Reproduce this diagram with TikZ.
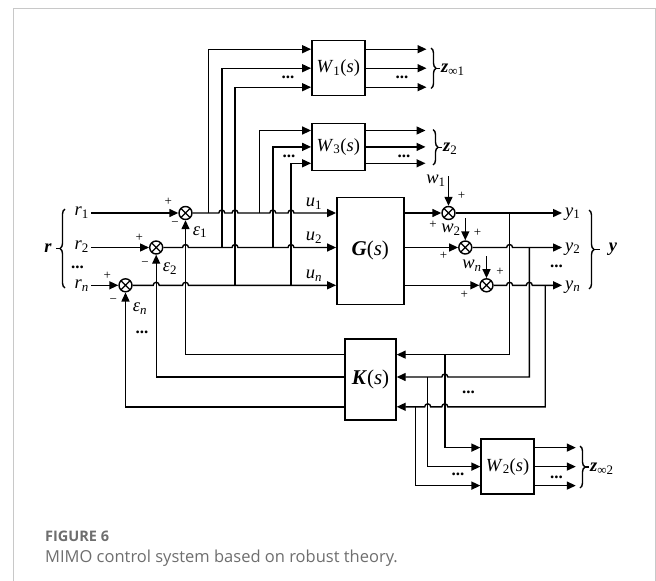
\documentclass[tikz,border=0pt]{standalone}
\usepackage{fontspec}
\setmainfont{Liberation Serif}
\newfontfamily\capfont{Open Sans}
\usetikzlibrary{arrows.meta,decorations.pathreplacing}
\definecolor{capgray}{RGB}{110,110,110}
\definecolor{framegray}{RGB}{200,200,200}
\newcommand\labf{\fontsize{18.5}{19}\selectfont}
\newcommand\bigf{\fontsize{21}{22}\selectfont}
\newcommand\pmf{\fontsize{13}{14}\selectfont}
\newcommand\dotf{\fontsize{17}{18}\selectfont\bfseries}
\tikzset{
  ln/.style={line width=1.4pt},
  ar/.style={line width=1.4pt,-{Triangle[length=9pt,width=8pt]}},
  blk/.style={draw,line width=1.4pt,inner sep=0pt,font=\labf},
  sm/.style={circle,draw,line width=1.4pt,minimum size=13pt,inner sep=0pt,
    path picture={\draw[line width=1.3pt] (path picture bounding box.north west)--(path picture bounding box.south east)
      (path picture bounding box.north east)--(path picture bounding box.south west);}},
  lb/.style={font=\labf,inner sep=0pt},
  pm/.style={font=\pmf,inner sep=0pt},
  dts/.style={font=\dotf,inner sep=0pt},
  brc/.style={line width=1.4pt,decorate,decoration={brace,amplitude=5pt}}
}
\begin{document}
\begin{tikzpicture}[x=1pt,y=-1pt]
\useasboundingbox (0,0) rectangle (656,581);
% frame
\draw[framegray,line width=1pt] (13,590) -- (13,8.5) -- (655,8.5) -- (655,590);

% blocks
\node[blk,minimum width=53pt,minimum height=55pt] (W1) at (338.3,68.2) {\textit{W}\textsubscript{1}(\textit{s})};
\node[blk,minimum width=53pt,minimum height=47pt] (W3) at (338.3,146.9) {\textit{W}\textsubscript{3}(\textit{s})};
\node[blk,minimum width=67pt,minimum height=107pt,font=\bigf] (G) at (370.3,250.9) {\textbf{\textit{G}}(\textit{s})};
\node[blk,minimum width=51pt,minimum height=81pt,font=\bigf] (K) at (370.5,379.6) {\textbf{\textit{K}}(\textit{s})};
\node[blk,minimum width=53pt,minimum height=55pt] (W2) at (507.6,466.6) {\textit{W}\textsubscript{2}(\textit{s})};

% summing junctions
\node[sm] (s1) at (185.5,213) {};
\node[sm] (s2) at (156.2,247.5) {};
\node[sm] (sn) at (125.5,285.3) {};
\node[sm] (sw1) at (448.5,213) {};
\node[sm] (sw2) at (465.3,247.5) {};
\node[sm] (swn) at (486.5,285.3) {};

% reference inputs
\node[lb] (r1) at (81.7,212.5) {\textit{r}\textsubscript{1}};
\node[lb] (r2) at (81.7,246.5) {\textit{r}\textsubscript{2}};
\node[lb] (rn) at (81.7,285.5) {\textit{r}\textsubscript{\textit{n}}};
\node[dts] (rd) at (77.5,267.5) {...};
\draw[ar] (91,213) -- (s1.west);
\draw[ar] (91,247.5) -- (s2.west);
\draw[ar] (91,285.3) -- (sn.west);
\draw[brc] (65,288) -- (65,209);
\draw[ln] (60,248.5) -- (56,248.5);
\node[lb] (r) at (48,248) {\textbf{\textit{r}}};

% signs at left sums
\node[pm] at (168.3,201.7) {+};
\node[pm] at (175,224) {−};
\node[pm] at (139.3,238.3) {+};
\node[pm] at (145,264) {−};
\node[pm] at (107.3,276) {+};
\node[pm] at (113.3,300.7) {−};
\node[lb] at (200,232) {\textit{ε}\textsubscript{1}};
\node[lb] at (170,268.5) {\textit{ε}\textsubscript{2}};
\node[lb] at (140,308.5) {\textit{ε}\textsubscript{\textit{n}}};
\node[dts] at (142,332) {...};

% u lines with hops
\draw[ar] (s1.east) -- (218.8,213) arc[start angle=180,end angle=0,radius=3pt]
  -- (232,213) arc[start angle=180,end angle=0,radius=3pt]
  -- (269.8,213) arc[start angle=180,end angle=0,radius=3pt]
  -- (288,213) arc[start angle=180,end angle=0,radius=3pt]
  -- (G.west |- s1);
\draw[ar] (s2.east) -- (182.5,247.5) arc[start angle=180,end angle=0,radius=3pt]
  -- (232,247.5) arc[start angle=180,end angle=0,radius=3pt]
  -- (288,247.5) arc[start angle=180,end angle=0,radius=3pt]
  -- (G.west |- s2);
\draw[ar] (sn.east) -- (153.2,285.3) arc[start angle=180,end angle=0,radius=3pt]
  -- (182.5,285.3) arc[start angle=180,end angle=0,radius=3pt]
  -- (G.west |- sn);
\node[lb] (u1) at (314,204) {\textit{u}\textsubscript{1}};
\node[lb] (u2) at (314,237.5) {\textit{u}\textsubscript{2}};
\node[lb] (un) at (314,276) {\textit{u}\textsubscript{\textit{n}}};

% W1 inputs
\coordinate (a1) at (208.4,213);
\coordinate (a2) at (221.8,247.5);
\coordinate (a3) at (235,285.3);
\draw[ar] (a1) |- ([yshift=19pt]W1.west);
\draw[ar] (a2) |- (W1.west);
\draw[ar] (a3) |- ([yshift=-19pt]W1.west);
% W3 inputs
\coordinate (b1) at (259.4,213);
\coordinate (b2) at (272.8,247.5);
\coordinate (b3) at (291,285.3);
\draw[ar] (b1) |- ([yshift=16.4pt]W3.west);
\draw[ar] (b2) |- (W3.west);
\draw[ar] (b3) |- ([yshift=-16.4pt]W3.west);
\node[dts] at (288,77) {...};
\node[dts] at (289,156) {...};

% W1 outputs
\draw[ar] ([yshift=19pt]W1.east) -- ++(61pt,0pt);
\draw[ar] (W1.east) -- ++(61pt,0pt);
\draw[ar] ([yshift=-19pt]W1.east) -- ++(61pt,0pt);
\node[dts] at (402,77) {...};
\draw[brc] (431,48) -- (431,88.5);
\draw[ln] (436,68.2) -- (440,68.2);
\node[lb,anchor=west] (z1) at (441,70) {\textbf{\textit{z}}\textsubscript{∞1}};
% W3 outputs
\draw[ar] ([yshift=16.4pt]W3.east) -- ++(60pt,0pt);
\draw[ar] (W3.east) -- ++(60pt,0pt);
\draw[ar] ([yshift=-16.4pt]W3.east) -- ++(60pt,0pt);
\node[dts] at (404,156) {...};
\draw[brc] (433,129.5) -- (433,165);
\draw[ln] (438,147.2) -- (442,147.2);
\node[lb,anchor=west] (z2) at (443,149) {\textbf{\textit{z}}\textsubscript{2}};

% plant outputs and disturbances
\draw[ar] (G.east |- sw1) -- (sw1.west);
\draw[ar] (G.east |- sw2) -- (sw2.west);
\draw[ar] (G.east |- swn) -- (swn.west);
\node[lb] (w1) at (436,181) {\textit{w}\textsubscript{1}};
\node[lb] (w2) at (451,230) {\textit{w}\textsubscript{2}};
\node[lb] (wn) at (472,266) {\textit{w}\textsubscript{\textit{n}}};
\coordinate (w1t) at (448.5,176);
\coordinate (w2t) at (465.3,218);
\coordinate (wnt) at (486.5,256);
\draw[ar] (w1t) -- (sw1.north);
\draw[ar] (w2t) -- (sw2.north);
\draw[ar] (wnt) -- (swn.north);
\node[pm] at (461.5,195.6) {+};
\node[pm] at (433,225) {+};
\node[pm] at (477.5,232.7) {+};
\node[pm] at (443.5,256) {+};
\node[pm] at (500,271.6) {+};
\node[pm] at (464.4,295.3) {+};

% outputs y
\node[lb,anchor=west] (y1) at (565,214) {\textit{y}\textsubscript{1}};
\node[lb,anchor=west] (y2) at (565,249) {\textit{y}\textsubscript{2}};
\node[lb,anchor=west] (yn) at (565,287) {\textit{y}\textsubscript{\textit{n}}};
\node[dts] at (556.5,266) {...};
\coordinate (e1) at (562,213);
\coordinate (e2) at (562,247.5);
\coordinate (en) at (562,285.3);
\draw[ar] (sw1.east) -- (e1);
\draw[ar] (sw2.east) -- (506.6,247.5) arc[start angle=180,end angle=0,radius=3pt] -- (e2);
\draw[ar] (swn.east) -- (506.6,285.3) arc[start angle=180,end angle=0,radius=3pt]
  -- (526.3,285.3) arc[start angle=180,end angle=0,radius=3pt] -- (en);
\draw[brc] (589,210) -- (589,289);
\draw[ln] (594,249.5) -- (600,249.5);
\node[lb] (y) at (613,249) {\textbf{\textit{y}}};

% feedback to K
\coordinate (c1) at (509.6,213);
\coordinate (c2) at (529.3,247.5);
\coordinate (c3) at (545.2,285.3);
\draw[ar] (c1) |- ([yshift=25pt]K.east);
\draw[ar] (c2) -- (529.3,377) -- (447.8,377) arc[start angle=0,end angle=180,radius=3pt]
  -- ([yshift=2.6pt]K.east);
\draw[ar] (c3) -- (545.2,406.8) -- (447.8,406.8) arc[start angle=0,end angle=180,radius=3pt]
  -- (430.7,406.8) arc[start angle=0,end angle=180,radius=3pt] -- ([yshift=-27.2pt]K.east);
\node[dts] at (468.6,392) {...};

% W2 inputs
\coordinate (d1) at (444.8,354.6);
\coordinate (d2) at (427.7,377);
\coordinate (d3) at (415.5,406.8);
\draw[ar] (d1) |- ([yshift=19pt]W2.west);
\draw[ar] (d2) |- (W2.west);
\draw[ar] (d3) |- ([yshift=-19pt]W2.west);
\node[dts] at (458,474) {...};
% W2 outputs
\draw[ar] ([yshift=19pt]W2.east) -- ++(41pt,0pt);
\draw[ar] (W2.east) -- ++(41pt,0pt);
\draw[ar] ([yshift=-19pt]W2.east) -- ++(41pt,0pt);
\node[dts] at (556.5,477) {...};
\draw[brc] (580,446) -- (580,488);
\draw[ln] (585,467) -- (589,467);
\node[lb,anchor=west] (z3) at (590,469) {\textbf{\textit{z}}\textsubscript{∞2}};

% controller outputs
\draw[ar] ([yshift=25pt]K.west) -| (s1.south);
\draw[ar] ([yshift=2.6pt]K.west) -| (s2.south);
\draw[ar] ([yshift=-27.2pt]K.west) -| (sn.south);

% caption
\node[anchor=base west,inner sep=0pt,text=capgray,font=\capfont\bfseries\fontsize{14.5}{16}\selectfont] at (45,541.5) {FIGURE 6};
\node[anchor=base west,inner sep=0pt,text=capgray,font=\capfont\fontsize{16.5}{18}\selectfont] at (45,562) {MIMO control system based on robust theory.};
\end{tikzpicture}
\end{document}
